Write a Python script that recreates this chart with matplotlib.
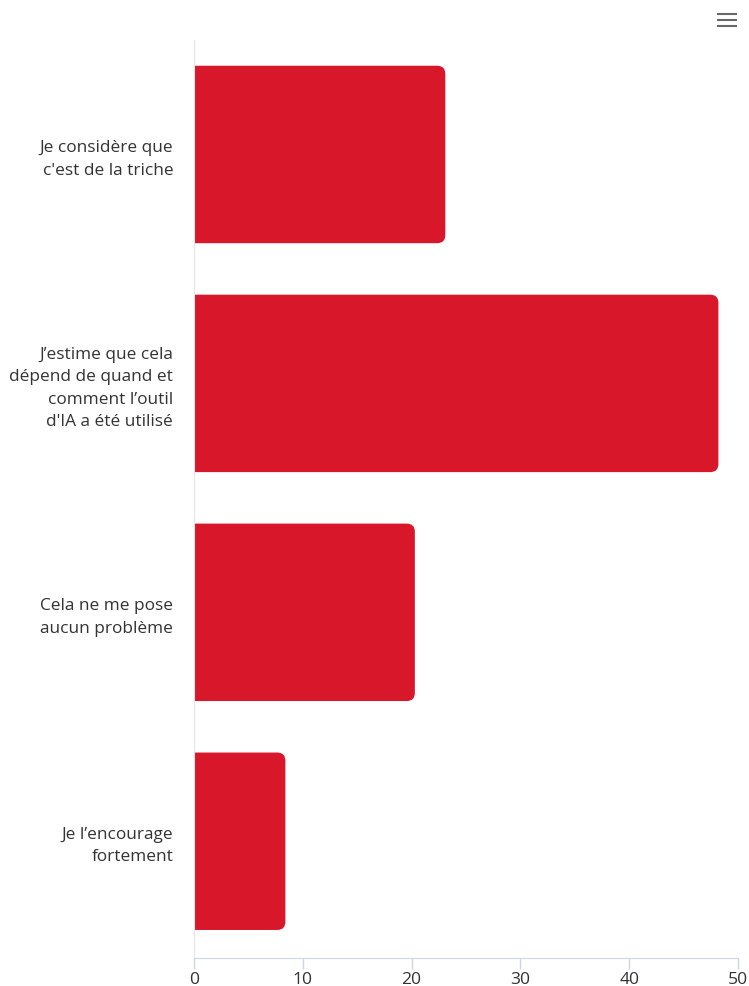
import matplotlib.pyplot as plt
from matplotlib.patches import FancyBboxPatch
from matplotlib.lines import Line2D

plt.rcParams['font.family'] = ['Open Sans', 'DejaVu Sans']

categories = [
    "Je considère que\nc'est de la triche",
    "J\u2019estime que cela\ndépend de quand et\ncomment l\u2019outil\nd'IA a été utilisé",
    "Cela ne me pose\naucun problème",
    "Je l\u2019encourage\nfortement",
]
values = [23.1, 48.2, 20.3, 8.4]
xticks = [0, 10, 20, 30, 40, 50]

bar_color = "#d8172a"
text_color = "#333333"

fig = plt.figure(figsize=(7.49, 9.86), dpi=100)
ax = fig.add_axes([194 / 749, 28 / 986, 544 / 749, 918 / 986])

ypos = list(range(len(values)))
bars = ax.barh(ypos, values, height=0.775, color=bar_color)

ax.set_xlim(0, 50)
ax.set_ylim(3.51, -0.5)

# swap plain rectangles for ones rounded on the right end;
# starting them left of zero hides the left rounding behind the axis
px_x = 544 / 50
px_y = 918 / 4.01
for b in bars:
    b.set_visible(False)
    x0 = -2
    w = b.get_width() - x0
    p = FancyBboxPatch((x0, b.get_y()), w, b.get_height(),
                       boxstyle="round,pad=0,rounding_size=0.75",
                       mutation_aspect=px_x / px_y,
                       facecolor=bar_color, edgecolor="none")
    ax.add_patch(p)

ax.set_yticks(ypos)
ax.set_yticklabels(categories, fontsize=12.4, color=text_color,
                   linespacing=1.52)
ax.tick_params(axis='y', length=0, pad=15)

ax.set_xticks(xticks)
ax.set_xticklabels([str(t) for t in xticks], fontsize=12.6, color=text_color)
ax.tick_params(axis='x', length=8, color="#ccd6eb", width=1, pad=2)

for s in ['top', 'right']:
    ax.spines[s].set_visible(False)
ax.spines['left'].set_color("#e6e6e6")
ax.spines['bottom'].set_color("#ccd6eb")

# menu icon
for y in [14, 20, 26]:
    fig.add_artist(Line2D([718 / 749, 736 / 749], [1 - y / 986, 1 - y / 986],
                          color="#666666", lw=1.5, transform=fig.transFigure))

fig.savefig("out.png", dpi=100)
